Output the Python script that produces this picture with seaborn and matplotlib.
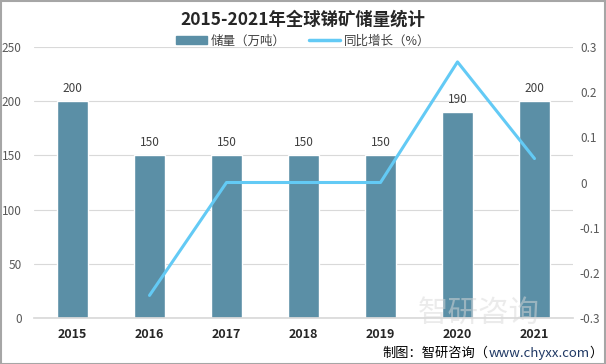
import matplotlib
matplotlib.use("Agg")
import matplotlib.pyplot as plt
import seaborn as sns
import numpy as np
import pandas as pd
from matplotlib.patches import Patch
from matplotlib.lines import Line2D

years = ["2015", "2016", "2017", "2018", "2019", "2020", "2021"]
reserves = [200, 150, 150, 150, 150, 190, 200]
growth = [np.nan, -0.25, 0.0, 0.0, 0.0, 0.267, 0.053]
left_ticks = [0, 50, 100, 150, 200, 250]
right_ticks = [-0.3, -0.2, -0.1, 0, 0.1, 0.2, 0.3]
right_labels = ["-0.3", "-0.2", "-0.1", "0", "0.1", "0.2", "0.3"]

sns.set_theme(style="white")
plt.rcParams['font.family'] = ['Noto Sans CJK SC', 'DejaVu Sans']

bar_color = "#5b8fa6"
line_color = "#63caf5"

fig = plt.figure(figsize=(6.06, 3.64), dpi=100)
ax = fig.add_axes([34/606, 1-318/364, (573-34)/606, (318-47)/364])

df = pd.DataFrame({"year": years, "reserve": reserves})
sns.barplot(data=df, x="year", y="reserve", color=bar_color, width=0.39, ax=ax, saturation=1)
ax.set_ylim(0, 250)
ax.set_yticks(left_ticks)
ax.set_yticklabels([str(t) for t in left_ticks], fontsize=8.5, color="#595959")
ax.set_xlabel("")
ax.set_ylabel("")
ax.tick_params(axis="x", length=0, pad=7)
for lbl in ax.get_xticklabels():
    lbl.set_fontsize(9)
    lbl.set_fontweight("bold")
    lbl.set_color("#262626")
ax.tick_params(axis="y", length=0, pad=9)
ax.grid(axis="y", color="#d9d9d9", linewidth=0.8)
ax.set_axisbelow(True)
for s in ax.spines.values():
    s.set_visible(False)
ax.spines["bottom"].set_visible(True)
ax.spines["bottom"].set_color("#d9d9d9")

for i, v in enumerate(reserves):
    ax.text(i, v + 6, str(v), ha="center", va="bottom", fontsize=8.5, color="#404040")

ax2 = ax.twinx()
idx = list(range(len(years)))
sns.lineplot(x=idx, y=growth, color=line_color, linewidth=2.2, ax=ax2)
ax2.set_ylim(-0.3, 0.3)
ax2.set_yticks(right_ticks)
ax2.set_yticklabels(right_labels, fontsize=8.5, color="#595959")
ax2.tick_params(axis="y", length=0, pad=5)
ax2.set_xlim(-0.5, len(years) - 0.5)
ax.set_xlim(-0.5, len(years) - 0.5)
for s in ax2.spines.values():
    s.set_visible(False)
ax2.grid(False)

# title
fig.text(0.5, 1-20/364, "2015-2021年全球锑矿储量统计", ha="center", va="center",
         fontsize=12.5, fontweight="bold", color="#262626")

# legend
handles = [Patch(color=bar_color), Line2D([0], [0], color=line_color, linewidth=2.5)]
fig.legend(handles, ["储量（万吨）", "同比增长（%）"], loc="center", bbox_to_anchor=(0.5, 1-41/364),
           ncol=2, frameon=False, fontsize=9, handlelength=2.5, handleheight=0.6,
           columnspacing=1.8, handletextpad=0.3, labelcolor="#404040")

# watermark
fig.text(0.79, 1-313/364, "智研咨询", ha="center", va="center", fontsize=22, color="#d9d9d9",
         alpha=0.5, zorder=0)

# source
src_y = 1-353/364
x_end = 603/606
t3 = fig.text(x_end, src_y, "）", ha="right", va="center", fontsize=9.5, color="#000000")
fig.canvas.draw()
r = fig.canvas.get_renderer()
bb = t3.get_window_extent(r)
t2 = fig.text(bb.x0/606, src_y, "www.chyxx.com", ha="right", va="center", fontsize=9.5, color="#1f3864")
bb2 = t2.get_window_extent(r)
fig.text(bb2.x0/606, src_y, "制图：智研咨询（", ha="right", va="center", fontsize=9.5, color="#000000")

# frame
fig.patches.append(plt.Rectangle((0.001, 0.001), 0.998, 0.997, transform=fig.transFigure,
                                 fill=False, edgecolor="#a6a6a6", linewidth=1.5))

fig.savefig("out.png", dpi=100)
